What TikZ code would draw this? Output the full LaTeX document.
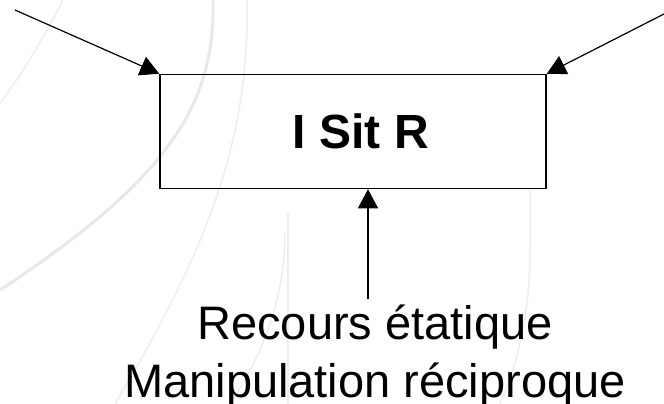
\documentclass[tikz,border=0pt]{standalone}
\usepackage{fontspec}
\setmainfont{Liberation Sans}
\usetikzlibrary{arrows.meta}
\begin{document}
\begin{tikzpicture}[x=1pt,y=-1pt,
  bgthick/.style={draw=black!9,line width=3pt},
  bgthin/.style={draw=black!7,line width=1.5pt},
  conn/.style={draw=black,line width=1.2pt,-{Triangle[length=19pt,width=20pt]}},
  boxst/.style={draw=black,line width=1.5pt,rectangle,minimum width=386pt,minimum height=114pt,inner sep=0pt},
  titlest/.style={font=\bfseries\fontsize{48}{58}\selectfont,inner sep=0pt},
  labelst/.style={font=\fontsize{47}{58}\selectfont,inner sep=0pt,anchor=base}]
\useasboundingbox (0,0) rectangle (664,404);
% faint background curves
\draw[bgthin] (63,0) .. controls (45,35) and (25,70) .. (0,103);
\draw[bgthick] (213,0) .. controls (215,100) and (175,175) .. (0,290);
\draw[bgthin] (247,0) .. controls (250,150) and (200,260) .. (115,404);
\draw[bgthin] (288,213) -- (288,404);
\draw[bgthin] (285,233) .. controls (285,300) and (260,360) .. (230,404);
\draw[bgthin] (530,190) -- (530,250) .. controls (530,320) and (515,370) .. (500,404);
% diagram
\node[boxst] (box) at (353,131.5) {};
\node[titlest] (title) at (361,131.5) {I Sit R};
\node[labelst] (l1) at (375,339) {Recours étatique};
\node[labelst] (l2) at (375,397) {Manipulation réciproque};
\coordinate (a) at (15,10);
\coordinate (b) at (664,14);
\coordinate (c) at (368,299);
\draw[conn] (a) -- (box.north west);
\draw[conn] (b) -- (box.north east);
\draw[conn] (c) -- (box.south -| c);
\end{tikzpicture}
\end{document}
